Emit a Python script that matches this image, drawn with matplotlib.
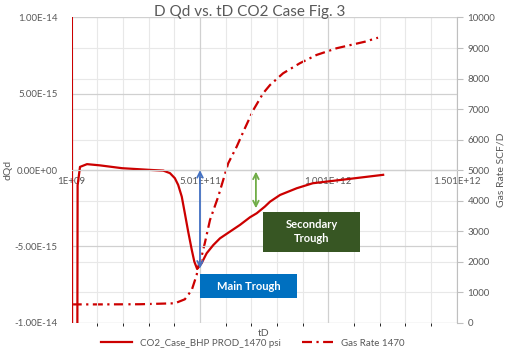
import numpy as np
import matplotlib
matplotlib.use('Agg')
import matplotlib.pyplot as plt
from matplotlib.ticker import FixedLocator, FuncFormatter, MultipleLocator
from matplotlib.patches import Rectangle

plt.rcParams['font.family'] = ['Lato', 'DejaVu Sans']

# data
td_bhp = [1.0e9, 3.0e9, 2.1e10, 2.4e10, 3.33e10, 6.06e10, 1.11e11, 1.97e11, 3.06e11, 3.58e11,
          3.84e11, 4.03e11, 4.16e11, 4.30e11, 4.42e11, 4.55e11, 4.69e11, 4.79e11, 4.90e11,
          5.07e11, 5.27e11, 5.53e11, 5.79e11, 6.18e11, 6.57e11, 6.96e11, 7.22e11, 7.54e11,
          7.74e11, 8.13e11, 8.78e11, 9.41e11, 1.072e12, 1.215e12]
dqd_bhp = [3.0e-14, -3.0e-14, -3.0e-14, -1.0e-15, 2.1e-16, 3.9e-16, 3.1e-16, 1.25e-16, 1.3e-17, -3.3e-17,
           -2.0e-16, -5.3e-16, -9.7e-16, -1.74e-15, -2.83e-15, -4.03e-15, -5.23e-15, -6.0e-15, -6.48e-15,
           -6.11e-15, -5.45e-15, -4.91e-15, -4.47e-15, -4.03e-15, -3.59e-15, -3.09e-15, -2.83e-15, -2.39e-15,
           -2.07e-15, -1.63e-15, -1.19e-15, -8.6e-16, -6.0e-16, -3.1e-16]

td_gas = [1.0e9, 1.1e11, 2.67e11, 4.03e11, 4.42e11, 4.69e11, 4.88e11, 4.94e11, 5.07e11, 5.20e11,
          5.40e11, 5.72e11, 6.11e11, 6.44e11, 6.76e11, 7.09e11, 7.47e11, 7.74e11, 8.25e11, 8.90e11,
          9.55e11, 1.033e12, 1.144e12, 1.195e12]
gas_rate = [600, 600, 605, 636, 767, 1071, 1563, 1835, 2163, 2611,
            3365, 4128, 5223, 5767, 6370, 6969, 7516, 7788, 8172, 8500,
            8771, 8991, 9207, 9338]

x_ticks = [1.0e9, 5.01e11, 1.001e12, 1.501e12]
x_tick_labels = ['1E+09', '5.01E+11', '1.001E+12', '1.501E+12']
dqd_ticks = [-1e-14, -5e-15, 0.0, 5e-15, 1e-14]
rate_ticks = [0, 1000, 2000, 3000, 4000, 5000, 6000, 7000, 8000, 9000, 10000]

red = '#cc0000'
txt = '#595959'
grid_major = '#d0d0d0'
grid_minor = '#e8e8e8'

fig = plt.figure(figsize=(5.05, 3.54), dpi=100)
ax2 = fig.add_axes([0.142, 0.0884, 0.762, 0.8622])
ax = fig.add_axes([0.142, 0.0884, 0.762, 0.8622], sharex=ax2)
ax.patch.set_visible(False)

# secondary axis (below): gas rate
ax2.set_ylim(0, 10000)
ax2.yaxis.tick_right()
ax2.yaxis.set_label_position('right')
ax2.yaxis.set_major_locator(FixedLocator(rate_ticks))
ax2.grid(axis='y', color=grid_minor, lw=0.8)
ax2.tick_params(axis='y', colors='#bfbfbf', labelcolor=txt, labelsize=7, length=4, pad=4)
ax2.tick_params(axis='x', length=0, labelbottom=False)
for s in ['top', 'left', 'bottom']:
    ax2.spines[s].set_visible(False)
ax2.spines['right'].set_color('#bfbfbf')
gas_line, = ax2.plot(td_gas, gas_rate, color=red, lw=1.6, dashes=(4.5, 2, 1, 2),
                     label='Gas Rate 1470')
ax2.set_ylabel('Gas Rate SCF/D', color=txt, fontsize=7.5)
ax2.yaxis.set_label_coords(1.105, 0.5)

# primary axis (on top): dQd
ax.set_xlim(1.0e9, 1.501e12)
ax.set_ylim(-1e-14, 1e-14)
ax.xaxis.set_major_locator(FixedLocator(x_ticks))
ax.xaxis.set_minor_locator(MultipleLocator(1e11, offset=1e9))
ax.set_xticklabels(x_tick_labels)
ax.yaxis.set_major_locator(FixedLocator(dqd_ticks))
ax.yaxis.set_major_formatter(FuncFormatter(lambda v, p: '{:.2E}'.format(0.0 if abs(v) < 1e-20 else v)))
ax.grid(which='major', color=grid_major, lw=0.9)
ax.grid(which='minor', axis='x', color=grid_minor, lw=0.8)
ax.tick_params(axis='both', which='both', length=0, labelcolor=txt, labelsize=7)
ax.tick_params(axis='x', pad=5)
ax.tick_params(axis='y', pad=10)
ax.spines['bottom'].set_position(('data', 0))
ax.spines['bottom'].set_color(grid_major)
for s in ['top', 'left', 'right']:
    ax.spines[s].set_visible(False)
ax.set_zorder(ax2.get_zorder() + 1)

bhp_line, = ax.plot(td_bhp, dqd_bhp, color=red, lw=1.6, label='CO2_Case_BHP PROD_1470 psi',
                    solid_joinstyle='round')

ax.set_ylabel('dQd', color=txt, fontsize=7.5)
ax.yaxis.set_label_coords(-0.155, 0.5)
ax.text(0.498, -0.034, 'tD', transform=ax.transAxes, ha='center', va='center', color=txt, fontsize=7.5)

# annotations
ax.annotate('', xy=(5.01e11, 0.0), xytext=(5.01e11, -6.45e-15),
            arrowprops=dict(arrowstyle='<->', color='#4472c4', lw=1.3, shrinkA=0, shrinkB=0))
ax.annotate('', xy=(7.19e11, -0.1e-15), xytext=(7.19e11, -2.5e-15),
            arrowprops=dict(arrowstyle='<->', color='#70ad47', lw=1.3, shrinkA=0, shrinkB=0))

ax.add_patch(Rectangle((0.333, 0.08), 0.253, 0.079, transform=ax.transAxes,
                       facecolor='#0070c0', edgecolor='none', zorder=5))
ax.text(0.4595, 0.1195, 'Main Trough', transform=ax.transAxes, ha='center', va='center',
        color='white', fontsize=8, fontweight='bold', zorder=6)
ax.add_patch(Rectangle((0.498, 0.233), 0.251, 0.131, transform=ax.transAxes,
                       facecolor='#375623', edgecolor='none', zorder=5))
ax.text(0.6235, 0.2985, 'Secondary\nTrough', transform=ax.transAxes, ha='center', va='center',
        color='white', fontsize=8, fontweight='bold', linespacing=1.3, zorder=6)

fig.text(0.495, 0.966, 'D Qd vs. tD CO2 Case Fig. 3', ha='center', va='center', color=txt, fontsize=11)

fig.legend(handles=[bhp_line, gas_line], loc='center', bbox_to_anchor=(0.5, 0.031), ncol=2,
           frameon=False, fontsize=7, labelcolor=txt, handlelength=3.2, columnspacing=2.2,
           borderpad=0.2)

fig.savefig('out.png', dpi=100)
